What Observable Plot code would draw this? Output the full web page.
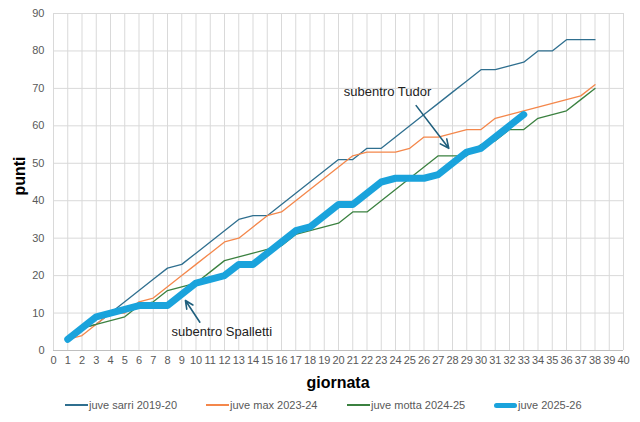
<!DOCTYPE html>
<html>
<head>
<meta charset="utf-8">
<script src="https://cdn.jsdelivr.net/npm/d3@7"></script>
<script src="https://cdn.jsdelivr.net/npm/@observablehq/plot@0.6"></script>
<style>
  html, body { margin: 0; padding: 0; background: #fff; }
  #wrap { position: relative; width: 640px; height: 422px; font-family: "Liberation Sans", Arial, sans-serif; }
  #legend { position: absolute; left: 0; top: 397px; width: 640px; height: 18px; font-size: 11px; color: #595959; }
  .item { position: absolute; top: 0; display: flex; align-items: center; height: 16px; }
  .sw { display: inline-block; width: 23px; margin-right: 1px; }
</style>
</head>
<body>
<div id="wrap"><div id="chart"></div><div id="legend"></div></div>
<script>
const seriesNames = ["juve sarri 2019-20", "juve max 2023-24", "juve motta 2024-25", "juve 2025-26"];
const seriesColors = ["#2f6f8f", "#f4874b", "#3b8140", "#1aa3dc"];
const seriesWidths = [1.3, 1.3, 1.3, 7];

const sarri = [3,6,7,10,13,16,19,22,23,26,29,32,35,36,36,39,42,45,48,51,51,54,54,57,60,63,66,69,72,75,75,76,77,80,80,83,83,83];
const maxAllegri = [3,4,7,10,10,13,14,17,20,23,26,29,30,33,36,37,40,43,46,49,52,53,53,53,54,57,57,58,59,59,62,63,64,65,66,67,68,71];
const motta = [3,6,7,8,9,12,13,16,17,18,21,24,25,26,27,28,31,32,33,34,37,37,40,43,46,49,52,52,52,55,56,59,59,62,63,64,67,70];
const juve2526 = [3,6,9,10,11,12,12,12,15,18,19,20,23,23,26,29,32,33,36,39,39,42,45,46,46,46,47,50,53,54,57,60,63];

const xTicks = d3.range(0, 41);
const yTicks = [0,10,20,30,40,50,60,70,80,90];

const annotTexts = [
  {label: "subentro Tudor", x: 23.44, y: 69.0},
  {label: "subentro Spalletti", x: 11.81, y: 5.07}
];
const annotArrows = [
  {x1: 25.45, y1: 65.4, x2: 27.74, y2: 54.0},
  {x1: 10.27, y1: 7.56, x2: 9.26, y2: 13.35}
];

const allSeries = [sarri, maxAllegri, motta, juve2526];
const rows = [];
allSeries.forEach((arr, si) => arr.forEach((v, i) => rows.push({s: seriesNames[si], g: i + 1, p: v})));

const lineMarks = seriesNames.map((name, si) =>
  Plot.line(rows.filter(d => d.s === name), {
    x: "g", y: "p",
    stroke: seriesColors[si],
    strokeWidth: seriesWidths[si],
    strokeLinejoin: "round",
    strokeLinecap: "round"
  })
);

const chart = Plot.plot({
  width: 640,
  height: 392,
  marginLeft: 53,
  marginRight: 17,
  marginTop: 13,
  marginBottom: 42,
  style: {fontFamily: "Liberation Sans, Arial, sans-serif", fontSize: "11px", color: "#595959", background: "#fff"},
  x: {domain: [0, 40], ticks: xTicks, tickSize: 0, tickPadding: 6, tickFormat: d => String(d), label: null},
  y: {domain: [0, 90], ticks: yTicks, tickSize: 0, tickPadding: 9, label: null},
  marks: [
    Plot.ruleX(xTicks, {stroke: "#d9d9d9", strokeWidth: 1}),
    Plot.ruleY(yTicks.filter(d => d > 0), {stroke: "#d9d9d9", strokeWidth: 1}),
    Plot.ruleY([0], {stroke: "#bfbfbf", strokeWidth: 1}),
    Plot.axisX({ticks: xTicks, tickSize: 0, tickPadding: 6, fill: "#595959", fontSize: 11}),
    Plot.axisY({ticks: yTicks, tickSize: 0, tickPadding: 9, fill: "#595959", fontSize: 11}),
    ...lineMarks,
    Plot.arrow(annotArrows, {x1: "x1", y1: "y1", x2: "x2", y2: "y2", stroke: "#1f5f7d", strokeWidth: 1.6, headLength: 9, headAngle: 50}),
    Plot.text(annotTexts, {x: "x", y: "y", text: "label", fill: "#222", fontSize: 13})
  ]
});

// axis titles
const svg = d3.select(chart);
svg.append("text").attr("x", 338).attr("y", 388).attr("text-anchor", "middle")
  .attr("font-size", 16).attr("font-weight", "bold").attr("fill", "#000")
  .attr("font-family", "Liberation Sans, Arial, sans-serif").text("giornata");
svg.append("text").attr("transform", "translate(25,176) rotate(-90)").attr("text-anchor", "middle")
  .attr("font-size", 16).attr("font-weight", "bold").attr("fill", "#000")
  .attr("font-family", "Liberation Sans, Arial, sans-serif").text("punti");

document.getElementById("chart").appendChild(chart);

// legend
const legendX = [65, 206, 347, 494];
const legend = document.getElementById("legend");
seriesNames.forEach((name, i) => {
  const it = document.createElement("div");
  it.className = "item";
  it.style.left = legendX[i] + "px";
  const sw = document.createElement("span");
  sw.className = "sw";
  const thick = seriesWidths[i] > 3;
  sw.style.height = (thick ? 5 : 1.5) + "px";
  sw.style.background = seriesColors[i];
  if (thick) sw.style.borderRadius = "3px";
  it.appendChild(sw);
  const t = document.createElement("span");
  t.textContent = name;
  it.appendChild(t);
  legend.appendChild(it);
});
</script>
</body>
</html>
